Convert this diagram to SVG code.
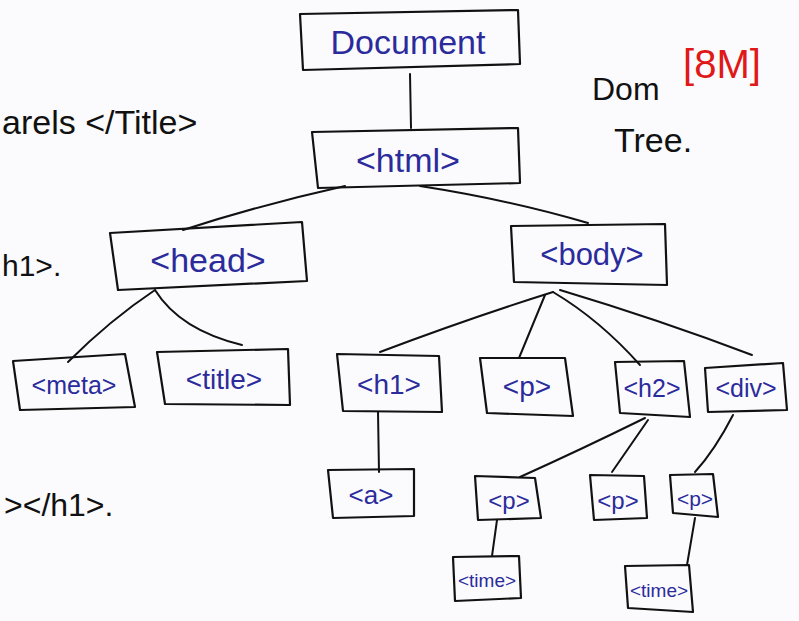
<svg xmlns="http://www.w3.org/2000/svg" width="799" height="621" viewBox="0 0 799 621">
<style>
.box{fill:none;stroke:#111;stroke-width:2.2;stroke-linejoin:round}
.lbl{font-family:"Liberation Sans",Arial,sans-serif;fill:#2b2b9c;text-anchor:middle}
.note{font-family:"Liberation Sans",Arial,sans-serif;fill:#111}
.edge{fill:none;stroke:#111;stroke-width:2;stroke-linecap:round}
</style>
<rect width="799" height="621" fill="#fbfbfd"/>
<g id="margin-notes">
<text class="note" x="2" y="134" font-size="34">arels &lt;/Title&gt;</text>
<text class="note" x="2" y="276" font-size="30">h1&gt;.</text>
<text class="note" x="4" y="516" font-size="32">&gt;&lt;/h1&gt;.</text>
<text class="note" x="592" y="100" font-size="32">Dom</text>
<text class="note" x="614" y="152" font-size="34">Tree.</text>
<text x="722" y="78" font-size="40" fill="#e01818" text-anchor="middle" font-family="'Liberation Sans',Arial,sans-serif">[8M]</text>
</g>
<g id="connectors">
<path class="edge" d="M410,74 L411,128"/>
<path class="edge" d="M345,186 Q260,205 183,230"/>
<path class="edge" d="M420,186 Q510,200 588,223"/>
<path class="edge" d="M155,290 Q110,320 68,362"/>
<path class="edge" d="M155,290 Q180,330 242,345"/>
<path class="edge" d="M553,292 Q470,318 380,352"/>
<path class="edge" d="M545,295 L519,358"/>
<path class="edge" d="M553,292 Q600,320 640,365"/>
<path class="edge" d="M560,290 Q660,320 752,355"/>
<path class="edge" d="M378,412 L379,472"/>
<path class="edge" d="M645,418 Q580,450 520,477"/>
<path class="edge" d="M648,420 L612,472"/>
<path class="edge" d="M733,415 Q715,450 695,472"/>
<path class="edge" d="M497,520 L492,556"/>
<path class="edge" d="M695,518 L687,565"/>
</g>
<g id="n-document"><polygon class="box" points="300,14 518,10 520,64 303,70"/><text class="lbl" x="408" y="54" font-size="34">Document</text></g>
<g id="n-html"><polygon class="box" points="312,132 518,128 520,183 318,188"/><text class="lbl" x="408" y="172" font-size="34">&lt;html&gt;</text></g>
<g id="n-head"><polygon class="box" points="110,233 302,222 307,281 118,290"/><text class="lbl" x="208" y="272" font-size="34">&lt;head&gt;</text></g>
<g id="n-body"><polygon class="box" points="511,226 665,224 667,285 514,282"/><text class="lbl" x="592" y="265" font-size="31">&lt;body&gt;</text></g>
<g id="n-meta"><polygon class="box" points="13,361 125,354 135,407 20,410"/><text class="lbl" x="74" y="394" font-size="25">&lt;meta&gt;</text></g>
<g id="n-title"><polygon class="box" points="157,352 288,349 290,405 165,404"/><text class="lbl" x="224" y="389" font-size="28">&lt;title&gt;</text></g>
<g id="n-h1"><polygon class="box" points="337,354 439,356 442,412 343,411"/><text class="lbl" x="389" y="394" font-size="28">&lt;h1&gt;</text></g>
<g id="n-p"><polygon class="box" points="480,358 565,358 573,416 487,413"/><text class="lbl" x="527" y="396" font-size="28">&lt;p&gt;</text></g>
<g id="n-h2"><polygon class="box" points="615,362 684,361 690,417 620,413"/><text class="lbl" x="652" y="397" font-size="25">&lt;h2&gt;</text></g>
<g id="n-div"><polygon class="box" points="705,368 783,363 787,410 708,412"/><text class="lbl" x="746" y="397" font-size="25">&lt;div&gt;</text></g>
<g id="n-a"><polygon class="box" points="328,470 414,469 414,516 333,518"/><text class="lbl" x="371" y="504" font-size="26">&lt;a&gt;</text></g>
<g id="n-p2"><polygon class="box" points="475,476 535,478 541,518 478,520"/><text class="lbl" x="509" y="509" font-size="24">&lt;p&gt;</text></g>
<g id="n-p3"><polygon class="box" points="590,475 644,476 647,518 594,520"/><text class="lbl" x="618" y="509" font-size="24">&lt;p&gt;</text></g>
<g id="n-p4"><polygon class="box" points="670,475 713,474 718,517 673,513"/><text class="lbl" x="695" y="506" font-size="21">&lt;p&gt;</text></g>
<g id="n-time1"><polygon class="box" points="453,557 519,556 521,598 455,601"/><text class="lbl" x="487" y="587" font-size="19">&lt;time&gt;</text></g>
<g id="n-time2"><polygon class="box" points="625,566 689,565 693,612 628,608"/><text class="lbl" x="659" y="597" font-size="19">&lt;time&gt;</text></g>
</svg>
